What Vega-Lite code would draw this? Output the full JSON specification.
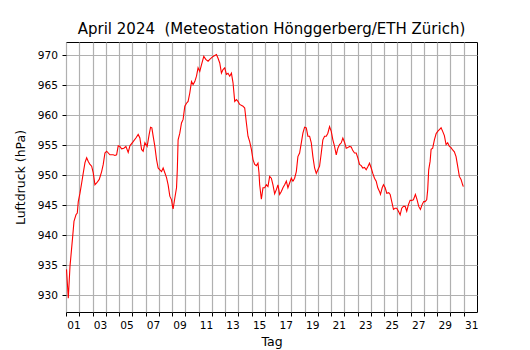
{
  "$schema": "https://vega.github.io/schema/vega-lite/v6.json",
  "width": 411,
  "height": 270,
  "autosize": "none",
  "padding": {"left": 66, "top": 42, "right": 53, "bottom": 38},
  "background": "white",
  "title": {
    "text": "April 2024 \u00a0(Meteostation Hönggerberg/ETH Zürich)",
    "font": "DejaVu Sans",
    "fontSize": 15,
    "fontWeight": "normal",
    "color": "black",
    "anchor": "middle",
    "offset": 5
  },
  "config": {
    "view": {"stroke": "black", "strokeWidth": 1},
    "axis": {
      "labelFont": "DejaVu Sans",
      "labelFontSize": 10.6,
      "labelColor": "black",
      "titleFont": "DejaVu Sans",
      "titleFontSize": 12.5,
      "titleFontWeight": "normal",
      "titleColor": "black",
      "tickColor": "black",
      "tickSize": 4,
      "tickWidth": 1,
      "domain": false,
      "grid": true,
      "gridColor": "#b0b0b0",
      "gridWidth": 1.2
    }
  },
  "data": {
    "values": [
      {"t": 0.038, "p": 934.3}, {"t": 0.173, "p": 929.5}, {"t": 0.301, "p": 934.8}, {"t": 0.505, "p": 939.8},
      {"t": 0.602, "p": 942.3}, {"t": 0.753, "p": 943.4}, {"t": 0.851, "p": 943.7}, {"t": 0.926, "p": 945.6},
      {"t": 1.054, "p": 947.0}, {"t": 1.182, "p": 948.7}, {"t": 1.303, "p": 950.4}, {"t": 1.431, "p": 952.1},
      {"t": 1.559, "p": 952.9}, {"t": 1.679, "p": 952.3}, {"t": 1.807, "p": 951.8}, {"t": 1.935, "p": 951.5},
      {"t": 2.056, "p": 950.4}, {"t": 2.184, "p": 948.4}, {"t": 2.312, "p": 948.7}, {"t": 2.508, "p": 949.3},
      {"t": 2.688, "p": 950.6}, {"t": 2.809, "p": 951.8}, {"t": 2.937, "p": 953.7}, {"t": 3.065, "p": 954.0},
      {"t": 3.313, "p": 953.4}, {"t": 3.562, "p": 953.4}, {"t": 3.690, "p": 953.3}, {"t": 3.818, "p": 953.4},
      {"t": 3.938, "p": 954.9}, {"t": 4.066, "p": 954.8}, {"t": 4.194, "p": 954.4}, {"t": 4.367, "p": 954.5},
      {"t": 4.518, "p": 954.8}, {"t": 4.691, "p": 953.8}, {"t": 4.819, "p": 954.9}, {"t": 5.068, "p": 955.6},
      {"t": 5.271, "p": 956.2}, {"t": 5.444, "p": 956.8}, {"t": 5.572, "p": 956.2}, {"t": 5.700, "p": 954.3},
      {"t": 5.821, "p": 954.0}, {"t": 5.949, "p": 955.4}, {"t": 6.122, "p": 954.8}, {"t": 6.273, "p": 956.8},
      {"t": 6.378, "p": 958.0}, {"t": 6.476, "p": 957.9}, {"t": 6.574, "p": 956.5}, {"t": 6.702, "p": 954.8},
      {"t": 6.830, "p": 952.6}, {"t": 6.950, "p": 951.2}, {"t": 7.078, "p": 950.9}, {"t": 7.206, "p": 950.6},
      {"t": 7.327, "p": 951.2}, {"t": 7.455, "p": 950.4}, {"t": 7.583, "p": 949.6}, {"t": 7.703, "p": 948.4},
      {"t": 7.831, "p": 946.5}, {"t": 7.959, "p": 945.9}, {"t": 8.035, "p": 944.8}, {"t": 8.080, "p": 944.4},
      {"t": 8.208, "p": 946.2}, {"t": 8.336, "p": 947.9}, {"t": 8.396, "p": 950.9}, {"t": 8.456, "p": 955.9},
      {"t": 8.584, "p": 957.0}, {"t": 8.712, "p": 958.7}, {"t": 8.833, "p": 959.3}, {"t": 8.961, "p": 961.5},
      {"t": 9.089, "p": 962.0}, {"t": 9.209, "p": 962.3}, {"t": 9.337, "p": 963.7}, {"t": 9.465, "p": 965.6},
      {"t": 9.586, "p": 965.1}, {"t": 9.714, "p": 965.6}, {"t": 9.842, "p": 966.5}, {"t": 9.962, "p": 967.9},
      {"t": 10.090, "p": 967.3}, {"t": 10.218, "p": 968.4}, {"t": 10.392, "p": 969.8}, {"t": 10.542, "p": 969.3},
      {"t": 10.715, "p": 969.0}, {"t": 10.843, "p": 969.3}, {"t": 11.092, "p": 969.8}, {"t": 11.348, "p": 970.1},
      {"t": 11.468, "p": 969.5}, {"t": 11.596, "p": 968.7}, {"t": 11.724, "p": 967.0}, {"t": 11.845, "p": 967.6},
      {"t": 11.973, "p": 967.9}, {"t": 12.101, "p": 966.8}, {"t": 12.221, "p": 967.0}, {"t": 12.349, "p": 966.5},
      {"t": 12.477, "p": 967.0}, {"t": 12.598, "p": 965.4}, {"t": 12.726, "p": 962.3}, {"t": 12.854, "p": 962.6},
      {"t": 12.974, "p": 962.3}, {"t": 13.102, "p": 961.8}, {"t": 13.351, "p": 961.5}, {"t": 13.479, "p": 961.2},
      {"t": 13.607, "p": 958.7}, {"t": 13.727, "p": 956.5}, {"t": 13.855, "p": 955.6}, {"t": 13.983, "p": 954.3},
      {"t": 14.104, "p": 952.6}, {"t": 14.232, "p": 951.8}, {"t": 14.360, "p": 951.6}, {"t": 14.480, "p": 952.0},
      {"t": 14.556, "p": 950.4}, {"t": 14.608, "p": 948.4}, {"t": 14.736, "p": 946.0}, {"t": 14.857, "p": 947.9},
      {"t": 14.985, "p": 947.9}, {"t": 15.113, "p": 948.4}, {"t": 15.233, "p": 948.1}, {"t": 15.361, "p": 949.8},
      {"t": 15.489, "p": 949.5}, {"t": 15.610, "p": 948.4}, {"t": 15.738, "p": 946.9}, {"t": 15.866, "p": 947.6},
      {"t": 15.986, "p": 948.4}, {"t": 16.114, "p": 946.8}, {"t": 16.242, "p": 947.3}, {"t": 16.363, "p": 947.9},
      {"t": 16.491, "p": 948.4}, {"t": 16.619, "p": 949.0}, {"t": 16.739, "p": 947.9}, {"t": 16.867, "p": 948.7},
      {"t": 16.995, "p": 949.5}, {"t": 17.116, "p": 949.0}, {"t": 17.244, "p": 949.5}, {"t": 17.372, "p": 950.6},
      {"t": 17.492, "p": 953.1}, {"t": 17.620, "p": 953.7}, {"t": 17.748, "p": 955.4}, {"t": 17.869, "p": 957.0},
      {"t": 17.997, "p": 958.0}, {"t": 18.125, "p": 957.9}, {"t": 18.245, "p": 956.5}, {"t": 18.373, "p": 956.5},
      {"t": 18.501, "p": 955.4}, {"t": 18.622, "p": 953.1}, {"t": 18.750, "p": 951.2}, {"t": 18.878, "p": 950.3},
      {"t": 18.998, "p": 950.9}, {"t": 19.126, "p": 951.5}, {"t": 19.254, "p": 953.7}, {"t": 19.375, "p": 955.9},
      {"t": 19.503, "p": 956.5}, {"t": 19.631, "p": 956.5}, {"t": 19.751, "p": 957.0}, {"t": 19.879, "p": 958.1},
      {"t": 20.007, "p": 957.3}, {"t": 20.128, "p": 955.9}, {"t": 20.256, "p": 954.8}, {"t": 20.384, "p": 953.4},
      {"t": 20.504, "p": 954.5}, {"t": 20.633, "p": 955.1}, {"t": 20.761, "p": 955.4}, {"t": 20.881, "p": 956.2},
      {"t": 21.009, "p": 955.5}, {"t": 21.137, "p": 954.5}, {"t": 21.258, "p": 954.6}, {"t": 21.386, "p": 954.8},
      {"t": 21.514, "p": 954.7}, {"t": 21.634, "p": 954.1}, {"t": 21.762, "p": 953.7}, {"t": 21.890, "p": 953.7},
      {"t": 22.011, "p": 952.9}, {"t": 22.139, "p": 951.8}, {"t": 22.267, "p": 951.6}, {"t": 22.387, "p": 951.2},
      {"t": 22.515, "p": 951.3}, {"t": 22.643, "p": 950.9}, {"t": 22.764, "p": 951.4}, {"t": 22.892, "p": 952.0},
      {"t": 23.020, "p": 951.2}, {"t": 23.140, "p": 950.3}, {"t": 23.268, "p": 949.5}, {"t": 23.396, "p": 949.0},
      {"t": 23.517, "p": 947.9}, {"t": 23.645, "p": 947.3}, {"t": 23.720, "p": 946.8}, {"t": 23.848, "p": 947.9},
      {"t": 23.946, "p": 948.4}, {"t": 24.074, "p": 947.9}, {"t": 24.194, "p": 947.0}, {"t": 24.345, "p": 947.1},
      {"t": 24.450, "p": 946.8}, {"t": 24.571, "p": 945.6}, {"t": 24.699, "p": 944.3}, {"t": 24.827, "p": 944.5},
      {"t": 24.947, "p": 944.5}, {"t": 25.075, "p": 944.0}, {"t": 25.203, "p": 943.4}, {"t": 25.324, "p": 944.5},
      {"t": 25.452, "p": 944.8}, {"t": 25.580, "p": 944.8}, {"t": 25.700, "p": 944.0}, {"t": 25.828, "p": 945.1},
      {"t": 25.956, "p": 945.8}, {"t": 26.077, "p": 945.8}, {"t": 26.205, "p": 945.9}, {"t": 26.355, "p": 946.8},
      {"t": 26.483, "p": 945.9}, {"t": 26.604, "p": 944.8}, {"t": 26.732, "p": 944.3}, {"t": 26.860, "p": 945.1},
      {"t": 26.980, "p": 945.6}, {"t": 27.086, "p": 945.6}, {"t": 27.206, "p": 945.9}, {"t": 27.282, "p": 947.6},
      {"t": 27.357, "p": 950.9}, {"t": 27.463, "p": 952.3}, {"t": 27.538, "p": 954.3}, {"t": 27.658, "p": 954.5},
      {"t": 27.786, "p": 955.9}, {"t": 27.914, "p": 956.9}, {"t": 28.035, "p": 957.3}, {"t": 28.163, "p": 957.6},
      {"t": 28.291, "p": 957.9}, {"t": 28.411, "p": 957.3}, {"t": 28.539, "p": 956.6}, {"t": 28.667, "p": 955.1},
      {"t": 28.788, "p": 955.4}, {"t": 28.916, "p": 954.8}, {"t": 29.044, "p": 954.6}, {"t": 29.164, "p": 954.2},
      {"t": 29.292, "p": 953.9}, {"t": 29.420, "p": 953.1}, {"t": 29.541, "p": 951.5}, {"t": 29.669, "p": 949.8},
      {"t": 29.797, "p": 949.3}, {"t": 29.917, "p": 948.4}, {"t": 29.970, "p": 948.1}
    ]
  },
  "mark": {"type": "line", "color": "red", "strokeWidth": 1.1, "clip": true},
  "encoding": {
    "x": {
      "field": "t",
      "type": "quantitative",
      "scale": {"domain": [0, 31], "nice": false, "zero": false},
      "axis": {
        "title": "Tag",
        "values": [0,1,2,3,4,5,6,7,8,9,10,11,12,13,14,15,16,17,18,19,20,21,22,23,24,25,26,27,28,29,30],
        "labelExpr": "datum.value % 2 == 0 ? ((datum.value + 1 < 10 ? '0' : '') + (datum.value + 1)) : ''",
        "labelOffset": 7.5,
        "labelOverlap": false,
        "labelFlush": false,
        "labelPadding": 4,
        "titlePadding": 5
      }
    },
    "y": {
      "field": "p",
      "type": "quantitative",
      "scale": {"domain": [927.2, 972.2], "nice": false, "zero": false},
      "axis": {
        "title": "Luftdruck (hPa)",
        "values": [930, 935, 940, 945, 950, 955, 960, 965, 970],
        "labelPadding": 4.5,
        "titlePadding": 9.5
      }
    }
  }
}
